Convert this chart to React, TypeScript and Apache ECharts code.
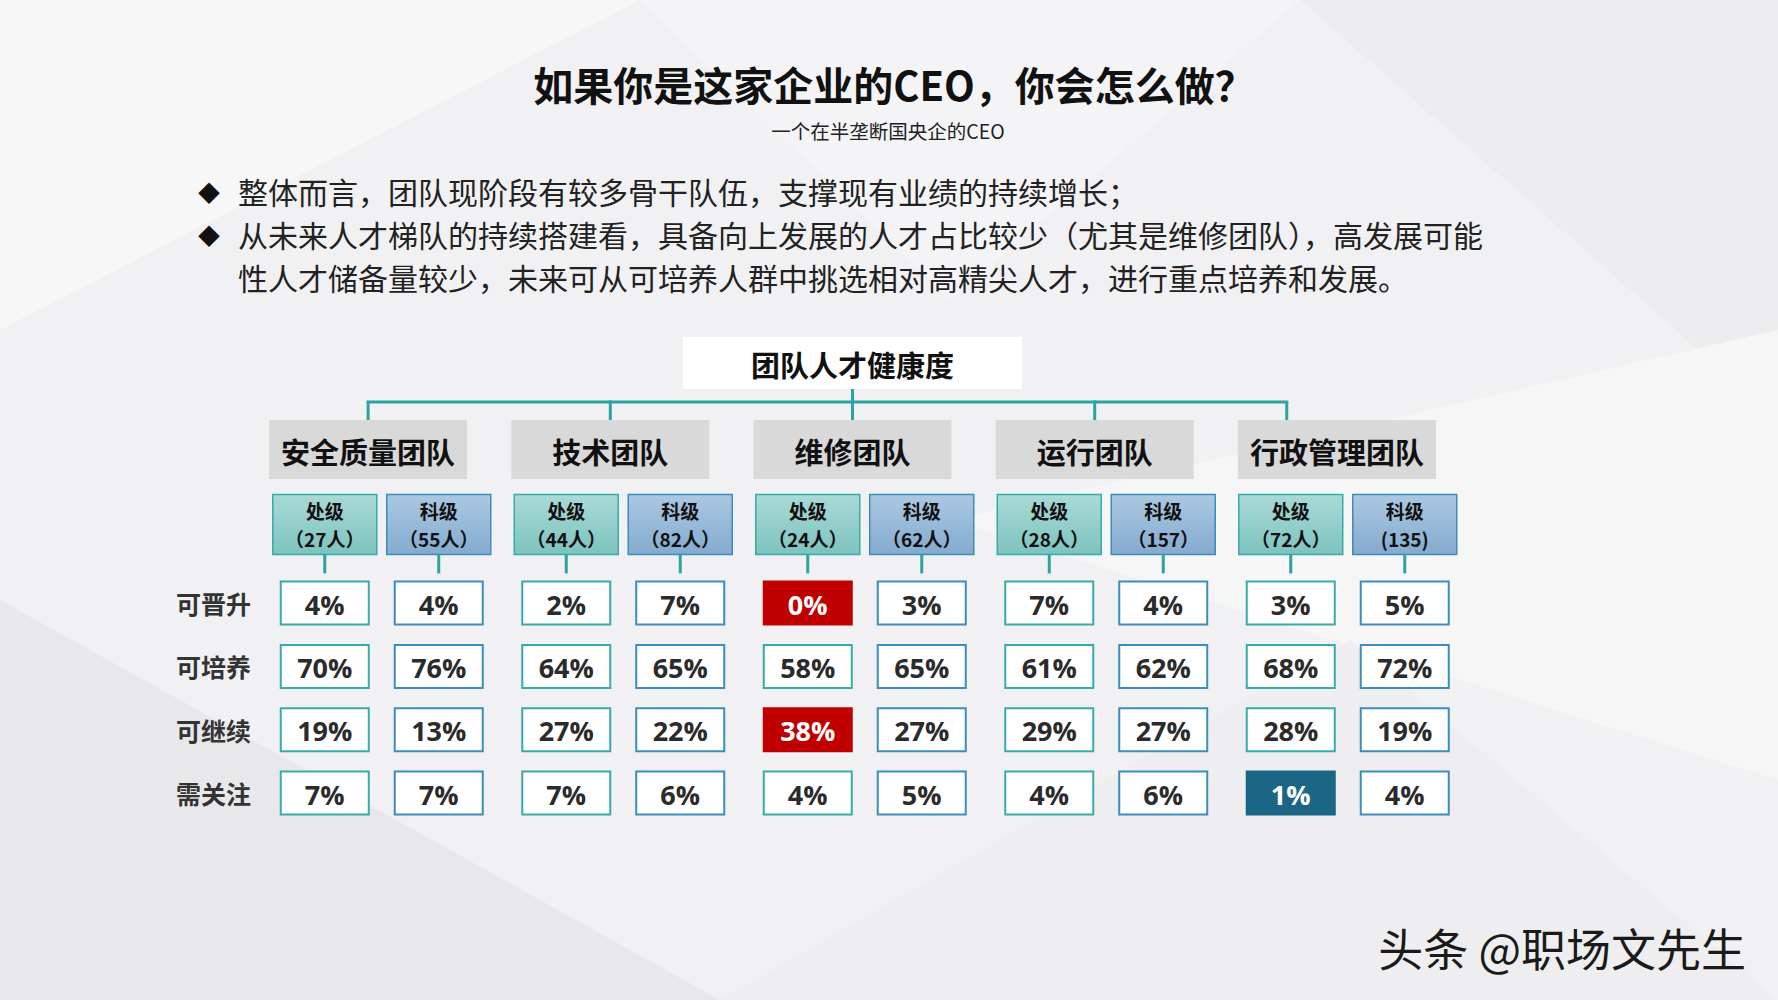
import React, { useEffect, useRef } from 'react';
import * as echarts from 'echarts';

// ---------- content ----------
const title = '如果你是这家企业的CEO，你会怎么做？';
const subtitle = '一个在半垄断国央企的CEO';
const bulletLines = [
  { bullet: true, text: '整体而言，团队现阶段有较多骨干队伍，支撑现有业绩的持续增长；' },
  { bullet: true, text: '从未来人才梯队的持续搭建看，具备向上发展的人才占比较少（尤其是维修团队），高发展可能' },
  { bullet: false, text: '性人才储备量较少，未来可从可培养人群中挑选相对高精尖人才，进行重点培养和发展。' },
];
const rootLabel = '团队人才健康度';
const teams = ['安全质量团队', '技术团队', '维修团队', '运行团队', '行政管理团队'];
const levels = ['处级', '科级'];
const headcounts = [
  ['（27人）', '（55人）'],
  ['（44人）', '（82人）'],
  ['（24人）', '（62人）'],
  ['（28人）', '（157）'],
  ['（72人）', '(135)'],
];
const rows = ['可晋升', '可培养', '可继续', '需关注'];
// column order: team1 处级, team1 科级, team2 处级, ...
const promotable = [4, 4, 2, 7, 0, 3, 7, 4, 3, 5];
const trainable = [70, 76, 64, 65, 58, 65, 61, 62, 68, 72];
const continuing = [19, 13, 27, 22, 38, 27, 29, 27, 28, 19];
const attention = [7, 7, 7, 6, 4, 5, 4, 6, 1, 4];
const rowValues = [promotable, trainable, continuing, attention];
const flagged = [
  { row: 0, col: 4, kind: 'risk' },
  { row: 2, col: 4, kind: 'risk' },
  { row: 3, col: 8, kind: 'low' },
];
const watermark = '头条 @职场文先生';

// ---------- styles ----------
const CJK = '"Noto Sans CJK SC", "Noto Sans", sans-serif';
const CJK_TC = '"Noto Sans CJK TC", "Noto Sans CJK SC", sans-serif';
const NUM = '"Open Sans", "Noto Sans", sans-serif';
const TEAL = '#2BA4A1';
const LEVEL_STROKE = ['#36ACA8', '#3A8DBC'];
const FLAG_FILL: Record<string, string> = { risk: '#C00000', low: '#1B6585' };

const centered = { textAlign: 'center', textVerticalAlign: 'middle', align: 'center', verticalAlign: 'middle' };

export default function App() {
  const ref = useRef<HTMLDivElement>(null);

  useEffect(() => {
    const chart = echarts.init(ref.current!, null, { renderer: 'svg' });

    const levelItems: { team: number; level: number; count: string }[] = [];
    teams.forEach((_, t) =>
      levels.forEach((_, l) => levelItems.push({ team: t, level: l, count: headcounts[t][l] }))
    );

    const cells: { team: number; level: number; row: number; value: number; kind: string | null }[] = [];
    rowValues.forEach((vals, r) =>
      vals.forEach((v, c) => {
        const f = flagged.find((x) => x.row === r && x.col === c);
        cells.push({ team: Math.floor(c / 2), level: c % 2, row: r, value: v, kind: f ? f.kind : null });
      })
    );

    const levelGradients = [
      new echarts.graphic.LinearGradient(0, 0, 0, 1, [
        { offset: 0, color: '#A9DAD7' },
        { offset: 1, color: '#7DC3BF' },
      ]),
      new echarts.graphic.LinearGradient(0, 0, 0, 1, [
        { offset: 0, color: '#ABC8E2' },
        { offset: 1, color: '#84ABCF' },
      ]),
    ];

    const option: any = {
      animation: false,
      backgroundColor: '#F1F1F3',
      graphic: [
        { type: 'polygon', z: -10, shape: { points: [[0, 0], [640, 0], [0, 330]] }, style: { fill: '#F7F7F8' }, silent: true },
        { type: 'polygon', z: -10, shape: { points: [[640, 0], [1300, 0], [950, 300]] }, style: { fill: '#F4F4F6' }, silent: true },
        { type: 'polygon', z: -10, shape: { points: [[1300, 0], [1778, 0], [1778, 420]] }, style: { fill: '#EDEDEF' }, silent: true },
        { type: 'polygon', z: -10, shape: { points: [[950, 520], [1778, 330], [1778, 780]] }, style: { fill: '#F6F6F7' }, silent: true },
        { type: 'polygon', z: -10, shape: { points: [[0, 600], [720, 1000], [0, 1000]] }, style: { fill: '#E8E8EB' }, silent: true },
        { type: 'polygon', z: -10, shape: { points: [[720, 1000], [1350, 640], [1778, 1000]] }, style: { fill: '#EEEEF0' }, silent: true },
        {
          type: 'text', x: 894, y: 84, silent: true,
          style: { text: title, ...centered, fontSize: 40, fontWeight: 'bold', fontFamily: CJK, fill: '#111' },
        },
        {
          type: 'text', x: 888, y: 130, silent: true,
          style: { text: subtitle, ...centered, fontSize: 19.5, fontFamily: CJK, fill: '#222' },
        },
        ...bulletLines.flatMap((b, i) => {
          const y = 191 + i * 43;
          const els: any[] = [
            {
              type: 'text', x: 238, y, silent: true,
              style: { text: b.text, textAlign: 'left', textVerticalAlign: 'middle', align: 'left', verticalAlign: 'middle', fontSize: 30, fontFamily: CJK, fill: '#222' },
            },
          ];
          if (b.bullet) {
            els.push({
              type: 'text', x: 209, y, silent: true,
              style: { text: '◆', ...centered, fontSize: 22, fontFamily: CJK, fill: '#111' },
            });
          }
          return els;
        }),
        {
          type: 'text', x: 1746, y: 947, silent: true,
          style: {
            text: watermark, textAlign: 'right', textVerticalAlign: 'middle', align: 'right', verticalAlign: 'middle',
            fontSize: 45, fontFamily: CJK, fill: '#1A1A1A',
            textShadowColor: '#FFFFFF', textShadowOffsetX: -2, textShadowOffsetY: -2, textShadowBlur: 0,
          },
        },
      ],
      grid: [
        { left: 247, top: 420, width: 1211, height: 59 },
        { left: 261, top: 571.4, width: 1207.5, height: 253.3 },
      ],
      xAxis: [
        { type: 'category', gridIndex: 0, data: teams, show: false },
        { type: 'category', gridIndex: 1, data: teams, show: false },
      ],
      yAxis: [
        { type: 'category', gridIndex: 0, data: ['team'], show: false },
        {
          type: 'category', gridIndex: 1, data: rows, inverse: true,
          axisLine: { show: false }, axisTick: { show: false }, splitLine: { show: false },
          axisLabel: { fontSize: 25, fontWeight: 'bold', fontFamily: CJK, color: '#333', margin: 10 },
        },
      ],
      series: [
        {
          type: 'custom', name: 'teams', xAxisIndex: 0, yAxisIndex: 0, silent: true,
          data: teams.map((_, i) => [i, 0]),
          renderItem: (params: any, api: any) => {
            const i = params.dataIndex;
            const [cx, cy] = api.coord([i, 0]);
            const band = api.size([1, 0])[0];
            const boxW = 198, boxH = 59;
            const top = cy - boxH / 2;
            const lineY = top - 18;
            const dropOf = (k: number, x: number) => (k === teams.length - 1 ? x - band * 0.207 : x);
            const dropX = dropOf(i, cx);
            const children: any[] = [
              { type: 'rect', shape: { x: cx - boxW / 2, y: top, width: boxW, height: boxH }, style: { fill: '#D9D9D9' } },
              {
                type: 'text',
                style: { text: teams[i], x: cx, y: cy + 1, ...centered, fontSize: 29, fontWeight: 'bold', fontFamily: CJK, fill: '#111' },
              },
              { type: 'line', shape: { x1: dropX, y1: lineY, x2: dropX, y2: top }, style: { stroke: TEAL, lineWidth: 3 } },
            ];
            if (i < teams.length - 1) {
              const [nx] = api.coord([i + 1, 0]);
              const nd = dropOf(i + 1, nx);
              children.push({ type: 'line', shape: { x1: dropX - 1.5, y1: lineY, x2: nd + 1.5, y2: lineY }, style: { stroke: TEAL, lineWidth: 3 } });
            }
            if (i === Math.floor(teams.length / 2)) {
              const rootW = 339, rootH = 52;
              const rootBottom = lineY - 13;
              children.push({ type: 'rect', shape: { x: cx - rootW / 2, y: rootBottom - rootH, width: rootW, height: rootH }, style: { fill: '#FFFFFF' } });
              children.push({
                type: 'text',
                style: { text: rootLabel, x: cx, y: rootBottom - rootH / 2 + 1, ...centered, fontSize: 29, fontWeight: 'bold', fontFamily: CJK, fill: '#111' },
              });
              children.push({ type: 'line', shape: { x1: cx, y1: rootBottom, x2: cx, y2: lineY }, style: { stroke: TEAL, lineWidth: 3 } });
            }
            return { type: 'group', children };
          },
        },
        {
          type: 'custom', name: 'levels', xAxisIndex: 1, yAxisIndex: 1, silent: true,
          data: levelItems.map((d) => [d.team, 0]),
          renderItem: (params: any, api: any) => {
            const d = levelItems[params.dataIndex];
            const [cx] = api.coord([d.team, 0]);
            const band = api.size([1, 0])[0];
            const x = cx + (d.level === 0 ? -1 : 1) * band * 0.236;
            const w = 104, h = 60;
            const top = params.coordSys.y - 77;
            return {
              type: 'group',
              children: [
                { type: 'rect', shape: { x: x - w / 2, y: top, width: w, height: h }, style: { fill: levelGradients[d.level], stroke: LEVEL_STROKE[d.level], lineWidth: 1.5 } },
                {
                  type: 'text',
                  style: { text: levels[d.level], x, y: top + 16, ...centered, fontSize: 19, fontWeight: 'bold', fontFamily: CJK, fill: '#111' },
                },
                {
                  type: 'text',
                  style: { text: d.count, x, y: top + 44, ...centered, fontSize: 19, fontWeight: 'bold', fontFamily: CJK_TC, fill: '#111' },
                },
                { type: 'line', shape: { x1: x, y1: top + h, x2: x, y2: top + h + 19 }, style: { stroke: TEAL, lineWidth: 3 } },
              ],
            };
          },
        },
        {
          type: 'custom', name: 'cells', xAxisIndex: 1, yAxisIndex: 1, silent: true,
          data: cells.map((c) => [c.team, c.row]),
          renderItem: (params: any, api: any) => {
            const c = cells[params.dataIndex];
            const [cx, cy] = api.coord([c.team, c.row]);
            const band = api.size([1, 0])[0];
            const x = cx + (c.level === 0 ? -1 : 1) * band * 0.236;
            const w = 88, h = 43;
            const fill = c.kind ? FLAG_FILL[c.kind] : '#FFFFFF';
            return {
              type: 'group',
              children: [
                {
                  type: 'rect', shape: { x: x - w / 2, y: cy - h / 2, width: w, height: h },
                  style: { fill, stroke: c.kind ? fill : LEVEL_STROKE[c.level], lineWidth: 2 },
                },
                {
                  type: 'text',
                  style: { text: c.value + '%', x, y: cy + 1, ...centered, fontSize: 27, fontWeight: 'bold', fontFamily: NUM, fill: c.kind ? '#FFFFFF' : '#2B2B2B' },
                },
              ],
            };
          },
        },
      ],
    };

    chart.setOption(option);
    return () => chart.dispose();
  }, []);

  return <div ref={ref} style={{ position: 'fixed', left: 0, top: 0, width: 1778, height: 1000 }} />;
}
